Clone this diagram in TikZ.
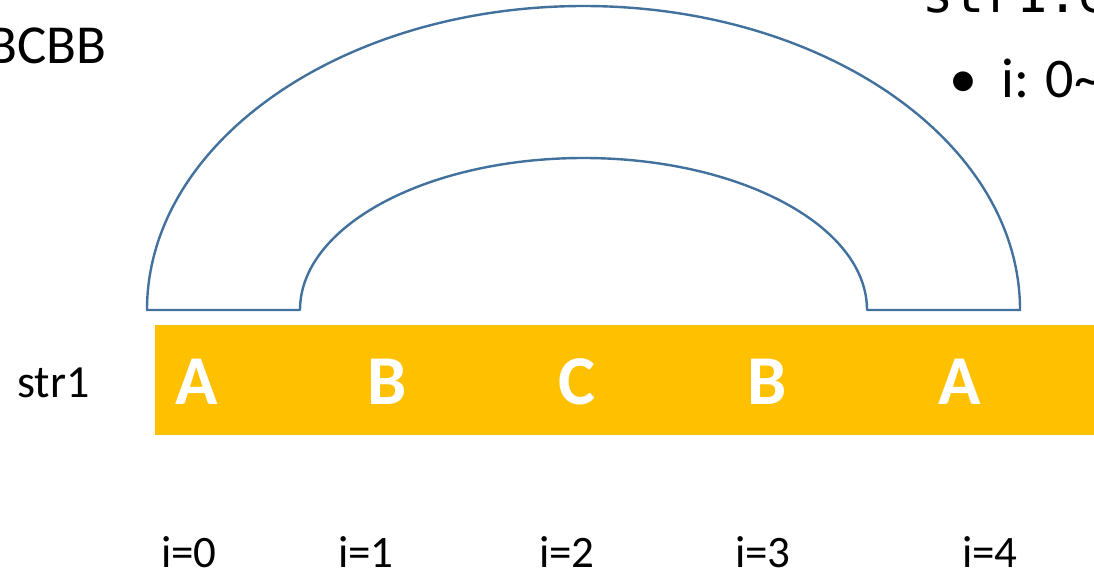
\documentclass[tikz,border=0pt]{standalone}
\usepackage{fontspec}
\setmainfont{Carlito}
\newfontfamily\monofont{DejaVu Sans Mono}
\definecolor{arcblue}{HTML}{41719C}
\definecolor{baryellow}{HTML}{FFC000}
\tikzset{
  cell/.style={text=white, font=\fontsize{70}{80}\selectfont\bfseries, anchor=base, inner sep=0pt},
  idx/.style={font=\fontsize{45}{50}\selectfont, anchor=base, inner sep=0pt},
  arcline/.style={draw=arcblue, line width=2.4pt, line join=round},
}
\begin{document}
\begin{tikzpicture}[x=1pt,y=-1pt]
\useasboundingbox (0,0) rectangle (1094,571);
\clip (0,0) rectangle (1094,571);
\fill[white] (0,0) rectangle (1094,571);
% top texts (cut off by the frame, as in the reference)
\node[font=\fontsize{55}{60}\selectfont, anchor=base east, inner sep=0pt] (top) at (107,63) {ABCBB};
\node[font=\monofont\fontsize{52}{60}\selectfont, anchor=base west, inner sep=0pt] (code) at (922,12) {str1.equals};
\node[font=\fontsize{56}{60}\selectfont, anchor=base, inner sep=0pt] (bul) at (963,97) {\textbullet};
\node[font=\fontsize{56}{60}\selectfont, anchor=base west, inner sep=0pt] (item) at (1001,97) {i: 0\textasciitilde4};
% block arc
\path[arcline] (147,310) arc[start angle=180, end angle=0, x radius=436.5, y radius=-304]
  -- (867,310) arc[start angle=0, end angle=180, x radius=283.5, y radius=-152] -- cycle;
% bar
\fill[baryellow] (155,325) rectangle (1100,435);
\node[font=\fontsize{46}{50}\selectfont, anchor=base west, inner sep=0pt] (lbl) at (17,397) {str1};
\node[cell] (c0) at (197,404) {A};
\node[cell] (c1) at (387,404) {B};
\node[cell] (c2) at (577,404) {C};
\node[cell] (c3) at (767,404) {B};
\node[cell] (c4) at (960,404) {A};
\node[idx] (i0) at (189,567) {i=0};
\node[idx] (i1) at (366,567) {i=1};
\node[idx] (i2) at (567,567) {i=2};
\node[idx] (i3) at (763,567) {i=3};
\node[idx] (i4) at (990,567) {i=4};
\end{tikzpicture}
\end{document}
